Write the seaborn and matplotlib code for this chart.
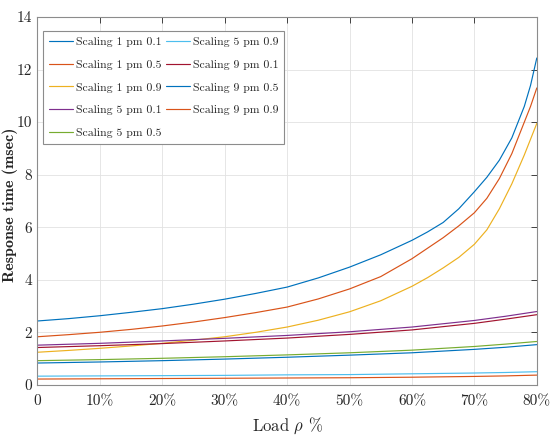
import numpy as np
import pandas as pd
import matplotlib
matplotlib.use("Agg")
import matplotlib.pyplot as plt
import seaborn as sns

# load in percent; the three steep curves are read at more points near the end
load_top = [0, 5, 10, 15, 20, 25, 30, 35, 40, 45, 50, 55, 60, 62.5, 65, 67.5,
            70, 72, 74, 76, 78, 79, 80]
load_low = [0, 10, 20, 30, 40, 50, 60, 70, 75, 80]

scaling_1_01 = [2.43, 2.52, 2.63, 2.76, 2.90, 3.07, 3.26, 3.48, 3.72, 4.07, 4.48, 4.95,
                5.50, 5.82, 6.18, 6.70, 7.35, 7.90, 8.55, 9.40, 10.6, 11.4, 12.44]
scaling_1_05 = [1.83, 1.91, 2.00, 2.11, 2.24, 2.39, 2.56, 2.75, 2.96, 3.27, 3.65, 4.12,
                4.80, 5.20, 5.60, 6.05, 6.55, 7.10, 7.85, 8.80, 10.0, 10.6, 11.3]
scaling_1_09 = [1.24, 1.31, 1.39, 1.48, 1.58, 1.70, 1.83, 2.00, 2.20, 2.46, 2.78, 3.20,
                3.75, 4.08, 4.45, 4.85, 5.35, 5.90, 6.70, 7.65, 8.75, 9.35, 9.95]

scaling_5_01 = [1.51, 1.58, 1.67, 1.77, 1.88, 2.02, 2.20, 2.45, 2.61, 2.79]
scaling_5_05 = [0.92, 0.96, 1.01, 1.07, 1.14, 1.22, 1.32, 1.46, 1.55, 1.65]
scaling_5_09 = [0.33, 0.34, 0.35, 0.36, 0.38, 0.39, 0.42, 0.45, 0.47, 0.50]
scaling_9_01 = [1.42, 1.49, 1.57, 1.67, 1.78, 1.92, 2.09, 2.34, 2.50, 2.67]
scaling_9_05 = [0.83, 0.87, 0.92, 0.98, 1.05, 1.13, 1.22, 1.35, 1.43, 1.53]
scaling_9_09 = [0.22, 0.23, 0.24, 0.25, 0.26, 0.27, 0.29, 0.32, 0.34, 0.37]

series_names = ["Scaling 1 pm 0.1", "Scaling 1 pm 0.5", "Scaling 1 pm 0.9",
                "Scaling 5 pm 0.1", "Scaling 5 pm 0.5", "Scaling 5 pm 0.9",
                "Scaling 9 pm 0.1", "Scaling 9 pm 0.5", "Scaling 9 pm 0.9"]
series_values = [scaling_1_01, scaling_1_05, scaling_1_09,
                 scaling_5_01, scaling_5_05, scaling_5_09,
                 scaling_9_01, scaling_9_05, scaling_9_09]
series_load = [load_top] * 3 + [load_low] * 6

x_ticks = [0, 10, 20, 30, 40, 50, 60, 70, 80]
x_tick_labels = ["0", "10%", "20%", "30%", "40%", "50%", "60%", "70%", "80%"]
y_ticks = [0, 2, 4, 6, 8, 10, 12, 14]

# matlab default line colours, order wraps after seven
matlab_colors = ["#0072BD", "#D95319", "#EDB120", "#7E2F8E", "#77AC30",
                 "#4DBEEE", "#A2142F", "#0072BD", "#D95319"]

frames = []
for name, xs, vals in zip(series_names, series_load, series_values):
    frames.append(pd.DataFrame({"load": xs, "resp": vals, "series": name}))
df = pd.concat(frames, ignore_index=True)

sns.set_style("white")
plt.rcParams['font.family'] = ['cmr10', 'DejaVu Serif']
plt.rcParams['mathtext.fontset'] = 'cm'
plt.rcParams['axes.unicode_minus'] = False

fig = plt.figure(figsize=(5.5, 4.48), dpi=100)
ax = fig.add_axes([0.068, 0.141, 0.908, 0.821])

sns.lineplot(data=df, x="load", y="resp", hue="series", hue_order=series_names,
             palette=matlab_colors, linewidth=0.85, ax=ax, legend=True)

ax.set_xlim(0, 80)
ax.set_ylim(0, 14)
ax.set_xticks(x_ticks)
ax.set_xticklabels(x_tick_labels)
ax.set_yticks(y_ticks)
ax.tick_params(direction="in", length=4, width=0.6, top=True, right=True,
               labelsize=11, colors="#262626")
ax.tick_params(axis="x", pad=7)
ax.tick_params(axis="y", pad=4)
ax.grid(True, color="#e2e2e2", linewidth=0.6)
for sp in ax.spines.values():
    sp.set_color("#8c8c8c")
    sp.set_linewidth(0.8)

ax.set_xlabel(r"Load $\rho$ %", fontsize=12, labelpad=5)
ax.set_ylabel("Response time (msec)", fontsize=11.5, family="cmb10", va="center")
ax.yaxis.set_label_coords(-0.055, 0.49)

leg = ax.legend(ncol=2, loc="upper left", bbox_to_anchor=(0.0, 0.978),
                fontsize=8.5, frameon=True, fancybox=False, framealpha=1,
                edgecolor="#8c8c8c", handlelength=2.0, handletextpad=0.25,
                columnspacing=0.4, labelspacing=1.05, borderpad=0.5)
leg.get_frame().set_linewidth(0.8)

fig.savefig("out.png", dpi=100)
